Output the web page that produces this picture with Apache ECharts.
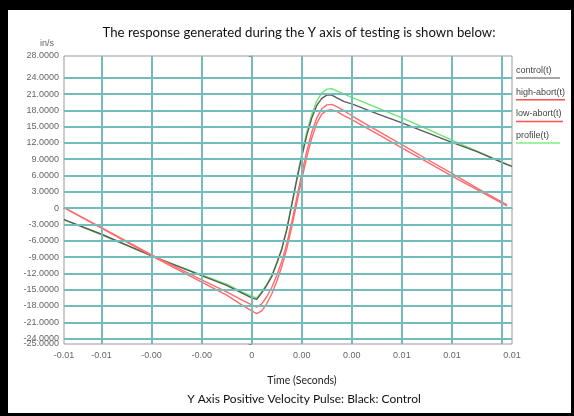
<!DOCTYPE html>
<html><head><meta charset="utf-8">
<script src="https://cdn.jsdelivr.net/npm/echarts@6/dist/echarts.min.js"></script>
<style>
html,body{margin:0;padding:0;background:#000;width:574px;height:416px;overflow:hidden}
#chart{position:absolute;left:8px;top:10px;width:563px;height:403px;background:#fff}
</style>
</head><body><div id="chart"></div>
<script>
const timeS = [-0.0075,-0.006,-0.004,-0.002,-0.001,-0.0004,0,0.0002,0.0004,0.0006,0.0008,0.0010,0.0012,0.0014,0.0016,0.0018,0.0020,0.0022,0.0024,0.0026,0.0028,0.0030,0.0032,0.0034,0.0037,0.0040,0.0050,0.0060,0.0070,0.0080,0.0090,0.0102,0.0104];
const controlV = [-2.1,-4.8,-8.8,-12.4,-14.2,-15.6,-16.5,-16.8,-15.6,-14.2,-12.6,-10.2,-7.6,-4.0,0.6,5.2,9.5,13.4,16.6,18.9,20.2,20.8,20.8,20.3,19.6,19.2,17.4,15.7,13.9,12.1,10.4,8.0,7.7];
const highAbortV = [0.1,-3.6,-8.6,-13.2,-15.4,-16.9,-17.8,-18.2,-17.6,-16.3,-14.6,-12.4,-9.8,-6.6,-2.6,1.9,6.3,10.5,14.0,16.6,18.3,19.0,19.1,18.7,17.9,17.0,14.3,11.7,9.0,6.4,3.7,0.6,null];
const lowAbortV = [0.1,-3.7,-8.8,-13.6,-16.0,-17.8,-18.9,-19.4,-18.9,-17.6,-15.8,-13.5,-10.8,-7.5,-3.5,0.9,5.3,9.4,12.9,15.6,17.3,18.0,18.1,17.8,17.0,16.3,13.7,11.1,8.5,5.9,3.4,0.4,null];
const profileV = [-2.1,-4.9,-8.8,-12.3,-14.0,-15.4,-16.2,-16.5,-15.4,-14.0,-12.4,-10.0,-7.4,-3.8,0.8,5.5,9.9,14.0,17.3,19.7,21.2,21.9,22.0,21.6,21.0,20.4,18.5,16.6,14.6,12.5,10.5,8.1,7.7];
const seriesNames = ['control(t)','high-abort(t)','low-abort(t)','profile(t)'];
const yTickValues = [-25,-24,-21,-18,-15,-12,-9,-6,-3,0,3,6,9,12,15,18,21,24,28];
const yGridValues = [-24,-21,-18,-15,-12,-9,-6,-3,0,3,6,9,12,15,18,21,24];
const xTickValues = [-0.0075,-0.006,-0.004,-0.002,0,0.002,0.004,0.006,0.008,0.0104];
const xTickLabels = ['-0.01','-0.01','-0.00','-0.00','0','0.00','0.00','0.01','0.01','0.01'];
const xGridValues = [-0.006,-0.004,-0.002,0,0.002,0.004,0.006,0.008,0.010];
const titleText = 'The response generated during the Y axis of testing is shown below:';
const captionText = 'Y Axis Positive Velocity Pulse: Black: Control';
const xName = 'Time (Seconds)';
const yName = 'in/s';

const Y_MIN = -25, Y_MAX = 28, X_MIN = -0.0075, X_MAX = 0.0104;
const seriesValues = [controlV, highAbortV, lowAbortV, profileV];
const seriesColors = ['#5a5a5a', '#ff6a6a', '#ff6a6a', '#6ae86a'];
const legendColors = ['#8a8a8a', '#ff5050', '#ff5050', '#80ee80'];
const underlineLen = [44, 49, 47, 44];
const humanist = 'Lato';
const yFmt = v => (v === 0 ? '0' : v.toFixed(4));

const chart = echarts.init(document.getElementById('chart'));
const lineSeries = seriesValues.map((vals, i) => ({
  name: seriesNames[i],
  type: 'line',
  data: timeS.map((t, j) => [t, vals[j]]),
  showSymbol: false,
  symbol: 'none',
  z: 3 + (i === 3 ? 0 : 1),
  lineStyle: { color: seriesColors[i], width: 1.4 },
  silent: true
}));
const gridLines = yGridValues.map(v => [{ coord: [X_MIN, v] }, { coord: [X_MAX, v] }])
  .concat(xGridValues.map(v => [{ coord: [v, Y_MIN] }, { coord: [v, Y_MAX] }]));
const gridSeries = {
  type: 'line', data: [], z: 1, silent: true,
  markLine: {
    silent: true, symbol: ['none', 'none'], animation: false,
    label: { show: false },
    lineStyle: { color: '#72bcbc', width: 2, type: 'solid' },
    data: gridLines
  }
};
const graphics = [
  { type: 'text', left: 32, top: 29, style: { text: yName, fill: '#666', font: '9px "Liberation Sans"' } }
];
seriesNames.forEach((n, i) => {
  const y = 62 + i * 21.7;
  graphics.push({ type: 'text', left: 508, top: y - 6, style: { text: n, fill: '#444', font: '9px "Liberation Sans"' } });
  graphics.push({ type: 'line', shape: { x1: 508, y1: y + 6, x2: 508 + underlineLen[i], y2: y + 6 }, style: { stroke: legendColors[i], lineWidth: 1.5 } });
});
const yLabelStyle = { color: '#666', fontSize: 9, margin: 5, hideOverlap: false, formatter: yFmt };

chart.setOption({
  animation: false,
  backgroundColor: '#fff',
  textStyle: { fontFamily: 'Liberation Sans' },
  title: [
    { text: titleText, left: 286, top: 11, textAlign: 'center',
      textStyle: { fontFamily: humanist, fontSize: 13.2, fontWeight: 'normal', color: '#111' } },
    { text: xName, left: 289, top: 360, textAlign: 'center',
      textStyle: { fontFamily: humanist, fontSize: 10.5, fontWeight: 'normal', color: '#222' } },
    { text: captionText, left: 291, top: 378, textAlign: 'center',
      textStyle: { fontFamily: humanist, fontSize: 12, fontWeight: 'normal', color: '#111' } }
  ],
  grid: { left: 56, top: 46, right: 59, bottom: 69, show: true, borderColor: '#999', borderWidth: 1, backgroundColor: 'transparent' },
  xAxis: {
    type: 'value', min: X_MIN, max: X_MAX,
    axisLine: { show: true, lineStyle: { color: '#888', width: 1 } },
    axisTick: { show: false },
    splitLine: { show: false },
    axisLabel: {
      customValues: xTickValues, color: '#666', fontSize: 9, margin: 7,
      showMinLabel: true, showMaxLabel: true, hideOverlap: false,
      formatter: v => { const k = xTickValues.findIndex(x => Math.abs(x - v) < 1e-9); return k >= 0 ? xTickLabels[k] : ''; }
    }
  },
  yAxis: [
    {
      type: 'value', min: Y_MIN, max: Y_MAX, position: 'left',
      axisLine: { show: true, lineStyle: { color: '#888', width: 1 } },
      axisTick: { show: true, customValues: yTickValues, length: 3, lineStyle: { color: '#888' } },
      splitLine: { show: false },
      axisLabel: Object.assign({ customValues: yTickValues, showMinLabel: true, showMaxLabel: true }, yLabelStyle)
    },
    {
      type: 'value', min: Y_MIN, max: Y_MAX, position: 'left', offset: 0,
      axisLine: { show: false }, axisTick: { show: false }, splitLine: { show: false },
      axisLabel: Object.assign({ customValues: [yTickValues[1]], showMinLabel: true, showMaxLabel: true }, yLabelStyle)
    }
  ],
  graphic: graphics,
  series: [gridSeries].concat(lineSeries)
});
</script>
</body></html>
